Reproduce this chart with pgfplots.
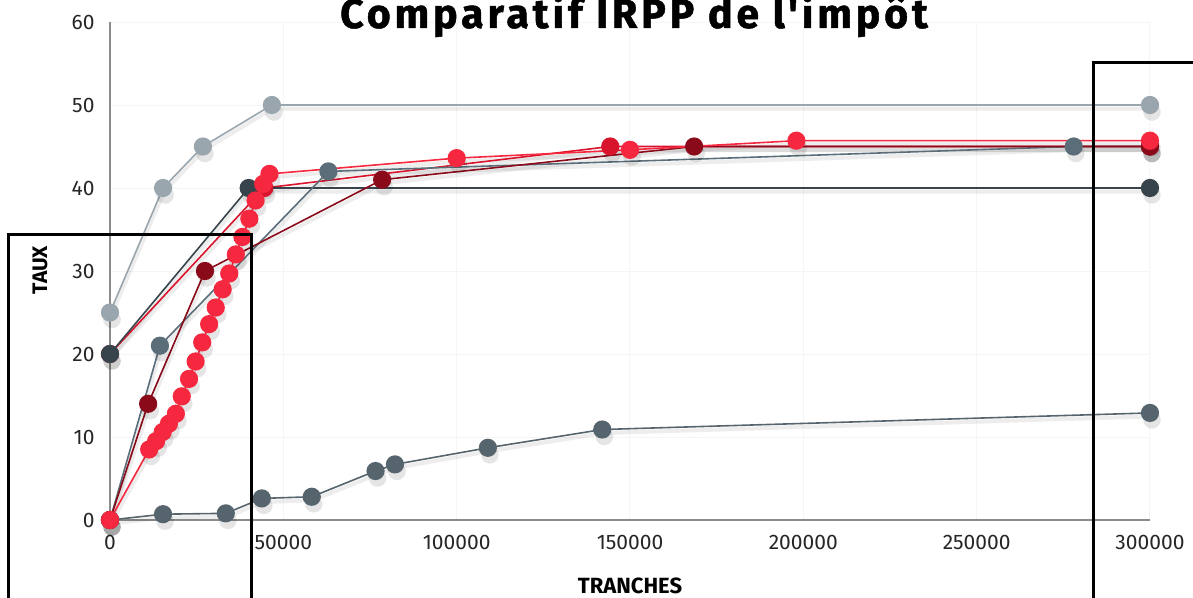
\documentclass[border=0pt]{standalone}
\usepackage{pgfplots}
\usepackage{pgfplotstable}
\pgfplotsset{compat=1.18}
\usepackage{fontspec}
\setmainfont{Fira Sans}
\newfontfamily\titlefont{Fira Sans}[LetterSpace=9.5, BoldFeatures={FakeBold=1.2, LetterSpace=9.5}]
\definecolor{cLight}{HTML}{9AA6AE}
\definecolor{cChar}{HTML}{37444B}
\definecolor{cSlate}{HTML}{5A6D79}
\definecolor{cLow}{HTML}{55646D}
\definecolor{cDark}{HTML}{8A0A1A}
\definecolor{cCrim}{HTML}{D8142C}
\definecolor{cRed}{HTML}{F5283F}
\pgfplotstableread{
x y
0 25
15300 40
26800 45
46700 50
300000 50
}\tLight
\pgfplotstableread{
x y
0 0
15300 0.7
33400 0.8
43800 2.6
58200 2.8
76600 5.9
82200 6.7
109000 8.7
142000 10.9
300000 12.9
}\tLow
\pgfplotstableread{
x y
0 20
40000 40
300000 40
}\tChar
\pgfplotstableread{
x y
0 0
14400 21
63000 42
278000 45
300000 45
}\tSlate
\pgfplotstableread{
x y
0 0
11000 14
27400 30
78500 41
168500 45
300000 45
}\tDark
\pgfplotstableread{
x y
0 20
44500 40
144300 45
300000 45
}\tCrim
\pgfplotstableread{
x y
0 0
11300 8.5
13300 9.5
15200 10.6
17000 11.6
19000 12.8
20700 14.9
22800 17.0
24700 19.1
26600 21.4
28600 23.6
30500 25.6
32500 27.8
34400 29.7
36300 32.0
38200 34.1
40200 36.3
42000 38.5
44200 40.5
46000 41.7
100000 43.6
150000 44.6
198000 45.7
300000 45.7
}\tRed
\begin{document}
\begin{tikzpicture}
\useasboundingbox (0,0) rectangle (1193bp,598bp);
\begin{axis}[
  at={(110bp,78bp)}, anchor=south west,
  scale only axis, width=1040bp, height=498bp,
  xmin=0, xmax=300000, ymin=0, ymax=60,
  xtick={0,50000,100000,150000,200000,250000,300000},
  xticklabels={0,50000,100000,150000,200000,250000,300000},
  ytick={0,10,20,30,40,50,60},
  yticklabels={0,10,20,30,40,50,60},
  scaled x ticks=false,
  tick label style={font=\fontsize{21bp}{24bp}\selectfont, text=black!85},
  major tick length=0pt,
  xticklabel style={yshift=-12bp},
  yticklabel style={xshift=-12bp},
  axis x line*=bottom, axis y line*=left,
  axis line style={draw=black!45, line width=1.2bp},
  grid=major, major grid style={draw=black!4, line width=1bp},
  every axis plot/.append style={line width=1.6bp, mark=*, mark size=8.3bp},
  shadow/.style={draw=black, draw opacity=0.07, line width=4bp, mark=*, mark size=8.8bp,
    mark options={fill=black, fill opacity=0.10, draw opacity=0},
    transform canvas={yshift=-3.5bp, xshift=1bp}},
  clip=false,
]
\addplot[shadow] table {\tLight};
\addplot[shadow] table {\tLow};
\addplot[shadow] table {\tCrim};
\addplot[shadow] table {\tChar};
\addplot[shadow] table {\tSlate};
\addplot[shadow] table {\tDark};
\addplot[shadow] table {\tRed};
\addplot[color=cLight, mark options={fill=cLight, draw=cLight}] table {\tLight};
\addplot[color=cLow, mark options={fill=cLow, draw=cLow}] table {\tLow};
\addplot[color=cCrim, mark options={fill=cCrim, draw=cCrim}] table {\tCrim};
\addplot[color=cChar, mark options={fill=cChar, draw=cChar}] table {\tChar};
\addplot[color=cSlate, mark options={fill=cSlate, draw=cSlate}] table {\tSlate};
\addplot[color=cDark, mark options={fill=cDark, draw=cDark}] table {\tDark};
\addplot[color=cRed, mark options={fill=cRed, draw=cRed}] table {\tRed};
\end{axis}
\node[anchor=base, font=\titlefont\fontsize{41bp}{46bp}\selectfont\bfseries] at (634bp,570bp) {Comparatif IRPP de l'impôt};
\node[rotate=90, font=\fontsize{21bp}{24bp}\selectfont\bfseries] at (40bp,328bp) {TAUX};
\node[anchor=base, font=\fontsize{22bp}{26bp}\selectfont\bfseries] at (630bp,5bp) {TRANCHES};
\draw[line width=3bp] (8bp,-10bp) -- (8bp,363bp) -- (251bp,363bp) -- (251bp,-10bp);
\draw[line width=3bp] (1093bp,-10bp) -- (1093bp,535bp) -- (1210bp,535bp);
\end{tikzpicture}
\end{document}
